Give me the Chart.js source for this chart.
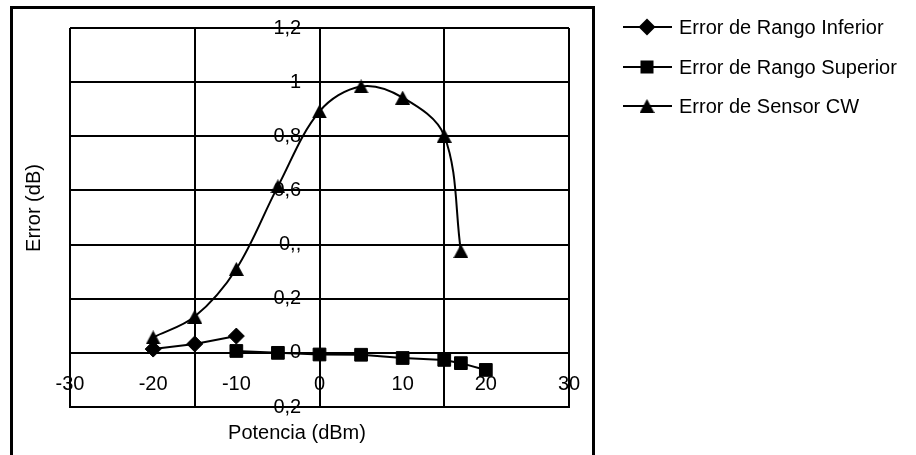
<!DOCTYPE html>
<html>
<head>
<meta charset="utf-8">
<script src="https://cdn.jsdelivr.net/npm/chart.js@4/dist/chart.umd.min.js"></script>
<style>
  html, body { margin: 0; padding: 0; background: #ffffff; }
  #c { display: block; }
</style>
</head>
<body>
<canvas id="c" width="916" height="455"></canvas>
<script>
// ---- data ----
const seriesNames = ["Error de Rango Inferior", "Error de Rango Superior", "Error de Sensor CW"];
const xInferior = [-20, -15, -10];
const yInferior = [0.014, 0.033, 0.062];
const xSuperior = [-10, -5, 0, 5, 10, 15, 17, 20];
const ySuperior = [0.007, 0.0, -0.006, -0.007, -0.019, -0.026, -0.038, -0.063];
const xCW = [-20, -15, -10, -5, 0, 5, 10, 15, 17];
const yCW = [0.057, 0.134, 0.31, 0.615, 0.892, 0.984, 0.943, 0.802, 0.376];
const xTickLabels = ["-30", "-20", "-10", "0", "10", "20", "30"];
const yTickLabels = ["-0,2", "0", "0,2", "0,,", "0,6", "0,8", "1", "1,2"];
const xTitle = "Potencia (dBm)";
const yTitle = "Error (dB)";

const FONT = '"Liberation Sans", Arial, sans-serif';
Chart.defaults.font.family = FONT;
Chart.defaults.font.size = 20;
Chart.defaults.color = '#000';

function toPoints(xs, ys) { return xs.map((x, i) => ({ x: x, y: ys[i] })); }

// triangle marker image (Excel-like)
function makeTriangle(w, h) {
  const cv = document.createElement('canvas');
  cv.width = w; cv.height = h;
  const g = cv.getContext('2d');
  g.fillStyle = '#000';
  g.beginPath();
  g.moveTo(w / 2, 0);
  g.lineTo(w, h);
  g.lineTo(0, h);
  g.closePath();
  g.fill();
  return cv;
}
const triImg = makeTriangle(15, 14);

const framePlugin = {
  id: 'frame',
  beforeDraw(chart) {
    const ctx = chart.ctx;
    ctx.save();
    ctx.fillStyle = '#fff';
    ctx.fillRect(0, 0, chart.width, chart.height);
    ctx.strokeStyle = '#000';
    ctx.lineWidth = 3;
    ctx.strokeRect(11.5, 7.5, 582, 470);
    ctx.restore();
  },
  afterDraw(chart) {
    const ctx = chart.ctx;
    ctx.save();
    ctx.fillStyle = '#000';
    ctx.font = '20px ' + FONT;
    ctx.textAlign = 'center';
    ctx.textBaseline = 'middle';
    ctx.fillText(xTitle, 297, 433);
    ctx.save();
    ctx.translate(34, 208);
    ctx.rotate(-Math.PI / 2);
    ctx.fillText(yTitle, 0, 0);
    ctx.restore();

    // legend
    const rows = [27, 67, 106];
    const styles = ['diamond', 'square', 'triangle'];
    ctx.textAlign = 'left';
    for (let i = 0; i < 3; i++) {
      const y = rows[i];
      ctx.strokeStyle = '#000';
      ctx.lineWidth = 2;
      ctx.beginPath();
      ctx.moveTo(623, y);
      ctx.lineTo(672, y);
      ctx.stroke();
      const cx = 647;
      ctx.beginPath();
      if (styles[i] === 'diamond') {
        ctx.moveTo(cx, y - 8.5); ctx.lineTo(cx + 8.5, y); ctx.lineTo(cx, y + 8.5); ctx.lineTo(cx - 8.5, y);
        ctx.closePath(); ctx.fill();
      } else if (styles[i] === 'square') {
        ctx.fillRect(cx - 6.5, y - 6.5, 13, 13);
      } else {
        ctx.drawImage(triImg, cx - 7.5, y - 7);
      }
      ctx.fillText(seriesNames[i], 679, y + 1);
    }
    ctx.restore();
  }
};

new Chart(document.getElementById('c'), {
  type: 'scatter',
  data: {
    datasets: [
      {
        label: seriesNames[0],
        data: toPoints(xInferior, yInferior),
        showLine: true,
        borderColor: '#000', backgroundColor: '#000', borderWidth: 2,
        pointStyle: 'rectRot', pointRadius: 8, pointBorderWidth: 1,
        tension: 0
      },
      {
        label: seriesNames[1],
        data: toPoints(xSuperior, ySuperior),
        showLine: true,
        borderColor: '#000', backgroundColor: '#000', borderWidth: 2,
        pointStyle: 'rect', pointRadius: 9, pointBorderWidth: 1,
        tension: 0
      },
      {
        label: seriesNames[2],
        data: toPoints(xCW, yCW),
        showLine: true,
        borderColor: '#000', backgroundColor: '#000', borderWidth: 2,
        pointStyle: triImg, pointRadius: 7,
        tension: 0.35
      }
    ]
  },
  options: {
    responsive: false,
    animation: false,
    devicePixelRatio: 1,
    layout: { padding: { left: 70, top: 28, right: 347, bottom: 48 } },
    plugins: { legend: { display: false }, tooltip: { enabled: false } },
    scales: {
      y: {
        type: 'linear',
        position: { x: -2.2 },
        min: -0.2, max: 1.2,
        ticks: {
          stepSize: 0.2,
          font: { size: 20 },
          color: '#000',
          callback: (v) => yTickLabels[Math.round((v + 0.2) / 0.2)]
        },
        grid: { color: '#000', lineWidth: 2, drawTicks: false },
        border: { display: false }
      },
      x: {
        type: 'linear',
        position: { y: -0.2 },
        min: -30, max: 30,
        ticks: { stepSize: 15, display: false },
        grid: { color: '#000', lineWidth: 2, drawTicks: false },
        border: { display: true, color: '#000', width: 2, z: 1 }
      },
      xl: {
        type: 'linear',
        axis: 'x',
        position: { y: 0 },
        min: -30, max: 30,
        ticks: {
          stepSize: 10,
          autoSkip: false,
          maxRotation: 0,
          padding: 20,
          font: { size: 20 },
          color: '#000',
          callback: (v) => xTickLabels[Math.round((v + 30) / 10)]
        },
        grid: { display: false, drawTicks: false },
        border: { display: false }
      }
    }
  },
  plugins: [framePlugin]
});
</script>
</body>
</html>
